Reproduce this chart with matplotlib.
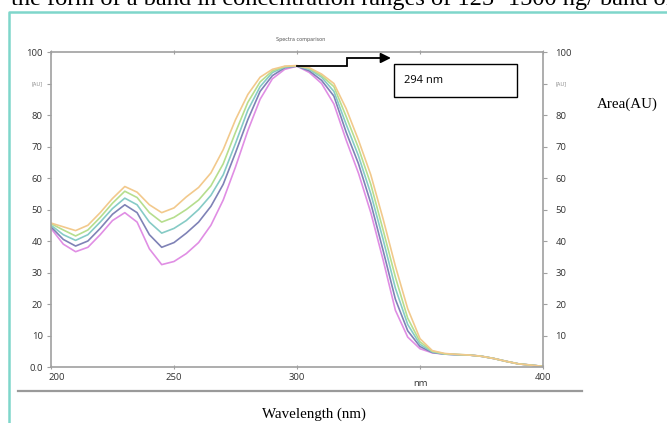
import numpy as np
import matplotlib.pyplot as plt
from matplotlib.lines import Line2D
from matplotlib.patches import Rectangle
import matplotlib.transforms as mtransforms

# wavelength grid (nm) and the five spectra
wl = list(range(200, 401, 5))

s_orange = [45.7, 44.5, 43.3, 45.0, 49.0, 53.5, 57.3, 55.5, 51.5, 49.0,
            50.5, 54.0, 57.0, 61.6, 69.0, 78.5, 86.5, 92.0, 94.5, 95.5,
            95.7, 95.0, 93.0, 90.0, 82.0, 72.0, 61.0, 47.0, 32.0, 18.5,
            9.0, 5.2, 4.3, 4.0, 3.8, 3.4, 2.7, 1.8, 1.0, 0.6, 0.2]
s_green = [45.5, 43.5, 41.6, 43.5, 47.5, 52.0, 55.8, 53.8, 49.0, 46.0,
           47.5, 50.0, 53.0, 57.5, 64.5, 74.5, 84.0, 90.5, 94.0, 95.4,
           95.6, 94.8, 92.5, 89.0, 79.5, 69.5, 58.0, 43.5, 28.5, 15.5,
           8.0, 5.0, 4.2, 4.0, 3.8, 3.4, 2.7, 1.8, 1.0, 0.6, 0.2]
s_teal = [45.0, 42.0, 40.2, 42.0, 46.0, 50.3, 53.6, 51.5, 46.0, 42.5,
          44.0, 46.5, 50.0, 54.5, 61.0, 71.0, 81.5, 89.0, 93.5, 95.2,
          95.6, 94.5, 92.0, 87.5, 77.0, 67.0, 55.0, 40.5, 25.0, 13.5,
          7.2, 4.8, 4.1, 3.9, 3.8, 3.4, 2.7, 1.8, 1.0, 0.6, 0.2]
s_blue = [44.5, 40.5, 38.4, 40.0, 44.0, 48.5, 51.5, 49.0, 42.0, 38.0,
          39.5, 42.5, 46.0, 51.0, 58.0, 68.0, 78.5, 87.5, 92.5, 95.0,
          95.5, 94.0, 91.0, 86.0, 74.5, 64.5, 52.0, 37.0, 21.5, 11.5,
          6.5, 4.6, 4.1, 3.9, 3.8, 3.4, 2.7, 1.8, 1.0, 0.6, 0.2]
s_magenta = [44.0, 39.0, 36.6, 38.0, 42.0, 46.5, 49.0, 46.0, 37.5, 32.5,
             33.5, 36.0, 39.5, 45.0, 53.0, 63.5, 75.0, 85.0, 91.5, 94.5,
             95.5, 93.5, 90.0, 83.5, 72.0, 61.5, 49.0, 34.0, 18.0, 9.5,
             5.8, 4.5, 4.1, 3.9, 3.8, 3.4, 2.7, 1.8, 1.0, 0.6, 0.2]

series = [s_magenta, s_blue, s_teal, s_green, s_orange]
colors = ['#e08ee4', '#7f82b6', '#86cbc6', '#b6de8e', '#f2c98c']

left_ticks = [0, 10, 20, 30, 40, 50, 60, 70, 80, 90, 100]
left_labels = ['0.0', '10', '20', '30', '40', '50', '60', '70', '80', '[AU]', '100']
right_ticks = [10, 20, 30, 40, 50, 60, 70, 80, 90, 100]
right_labels = ['10', '20', '30', '40', '50', '60', '70', '80', '[AU]', '100']
x_ticks = [200, 250, 300, 350, 400]
x_labels = ['200', '250', '300', 'nm', '400']

W, H = 667, 423
fig = plt.figure(figsize=(W / 100, H / 100), dpi=100)
fig.patch.set_facecolor('white')

ax = fig.add_axes([51 / W, 1 - 367 / H, (543 - 51) / W, (367 - 52) / H])
for s, c in zip(series, colors):
    ax.plot(wl, s, color=c, lw=1.2)

ax.set_xlim(200, 400)
ax.set_ylim(0, 100)
grey = '#a0a0a0'
for sp in ax.spines.values():
    sp.set_color(grey)
    sp.set_linewidth(1.2)

lab_font = dict(family='Open Sans', size=6.8, color='#333333')
ax.set_yticks(left_ticks)
ax.set_yticklabels(left_labels, **lab_font)
ax.set_xticks(x_ticks)
ax.set_xticklabels(x_labels, **lab_font)
ax.tick_params(axis='y', length=3, width=0.8, color=grey, pad=3)
ax.tick_params(axis='x', length=3, width=0.8, color=grey, pad=3, direction='inout',
               top=True)
for t in ax.get_yticklabels():
    if t.get_text() == '[AU]':
        t.set_fontsize(4)
        t.set_color('#888888')
xl = ax.get_xticklabels()
xl[0].set_transform(xl[0].get_transform() + mtransforms.ScaledTranslation(6 / 100, 0, fig.dpi_scale_trans))
xl[3].set_transform(xl[3].get_transform() + mtransforms.ScaledTranslation(0, -6 / 100, fig.dpi_scale_trans))

ax2 = ax.twinx()
ax2.set_ylim(0, 100)
ax2.set_yticks(right_ticks)
ax2.set_yticklabels(right_labels, **lab_font)
ax2.tick_params(axis='y', length=3, width=0.8, color=grey, pad=6)
for sp in ax2.spines.values():
    sp.set_visible(False)
for t in ax2.get_yticklabels():
    if t.get_text() == '[AU]':
        t.set_fontsize(4)
        t.set_color('#888888')

# peak marker arrow and label box
peak_i = int(np.argmax(s_orange))
px, py = wl[peak_i], s_orange[peak_i]
ax.plot([px, 320.3, 320.3, 336], [py, py, 98.1, 98.1], color='black', lw=1.3,
        solid_joinstyle='miter', clip_on=False)
ax.annotate('', xy=(339.3, 98.1), xytext=(335, 98.1),
            arrowprops=dict(arrowstyle='-|>,head_length=0.6,head_width=0.3',
                            color='black', lw=1.3), annotation_clip=False)
ax.add_patch(Rectangle((339.3, 85.7), 50.0, 10.5, fill=False, edgecolor='black', lw=1.0))
ax.text(343.5, 91.0, '294 nm', family='Open Sans', fontsize=8, va='center', ha='left')

fig.text(301 / W, 1 - 39 / H, 'Spectra comparison', fontsize=3.5, color='#555555',
         ha='center', va='center')
fig.text(627 / W, 1 - 104 / H, 'Area(AU)', family='Liberation Serif', fontsize=10.8,
         ha='center', va='center')
fig.text(314 / W, 1 - 414 / H, 'Wavelength (nm)', family='Liberation Serif', fontsize=10.8,
         ha='center', va='center')

# page text cut off above the figure
fig.text(11 / W, 1 - 5.5 / H, 'the form of a band in concentration ranges of 125\u22121500 ng/ band of',
         family='Liberation Serif', fontsize=17.6, ha='left', va='baseline')

# frame lines of the embedded picture
fig.add_artist(Line2D([18 / W, 582 / W], [1 - 391 / H, 1 - 391 / H], color='#9a9a9a', lw=1.6))
fig.add_artist(Line2D([9 / W, 9 / W, 1.0], [0.0, 1 - 12.5 / H, 1 - 12.5 / H], color='#7fd6cb', lw=1.8))

fig.savefig('out.png', dpi=100)
